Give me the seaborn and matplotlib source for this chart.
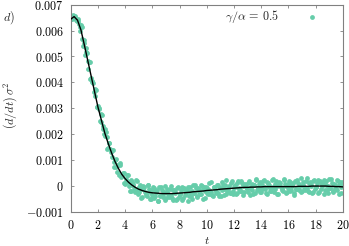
import numpy as np
import pandas as pd
import matplotlib
matplotlib.use('Agg')
import matplotlib.pyplot as plt
import seaborn as sns

# estilo tipo gnuplot / LaTeX
sns.set_style('ticks')
plt.rcParams['font.family'] = 'serif'
plt.rcParams['font.serif'] = ['cmr10']
plt.rcParams['mathtext.fontset'] = 'cm'
plt.rcParams['axes.unicode_minus'] = False
plt.rcParams['font.size'] = 8.7

# valores en unidades de 1e-5
# curva suave (paso 0.25 en t)
fit_vals = [644, 654, 640, 603, 545, 485, 425, 365, 305, 255,
            205, 165, 128, 95, 68, 45, 28, 14, 3, -6,
            -13, -18, -22, -25, -27, -28, -29, -30, -30, -30,
            -30, -29, -28, -27, -26, -25, -23, -22, -21, -20,
            -18, -17, -16, -15, -13, -12, -11, -10, -9, -8,
            -7, -6, -6, -5, -5, -4, -4, -3, -3, -3,
            -3, -3, -3, -3, -3, -3, -3, -2, -2, -2,
            -2, -1, -1, -1, -1, -1, -2, -2, -3, -3,
            -4]

# puntos de simulacion, serie A (t = 0, 0.1, ..., 20)
pts_a = [648, 645, 660, 650, 640, 645, 624, 600, 612, 541,
         552, 519, 513, 453, 479, 417, 401, 363, 376, 304,
         310, 297, 247, 273, 220, 193, 207, 142, 165, 143,
         112, 137, 94, 103, 54, 79, 90, 36, 37, 51,
         6, 28, 40, 1, -19, 16, 1, -24, 21, -11,
         -24, 5, -47, -12, -5, -28, -40, 2, -25, -49,
         -17, -9, -41, -24, -57, -6, -37, -18, -32, 1,
         -48, -25, -44, -11, -37, -54, -16, -28, -49, -3,
         -33, -17, -56, -10, -37, -18, -3, -41, -22, -49,
         5, -27, -9, -41, -15, -31, 4, -51, -3, -20,
         -9, -33, 10, -25, -37, -4, -13, -27, 5, -41,
         -7, -16, 3, -34, 22, -20, -9, -26, 11, -33,
         -5, 5, -27, 18, -14, -20, 10, -36, 3, -4,
         -23, 17, -10, 7, -31, 5, 25, -18, -7, 14,
         -25, 3, 22, -14, -30, 11, -3, -21, 24, -5,
         -13, 18, -31, 5, 12, -10, -19, 26, -2, -25,
         8, 16, -15, 2, -29, 19, -11, 11, -5, 32,
         -19, 4, -17, 18, -10, -25, 13, 1, -22, 23,
         -5, 11, -29, 17, -11, 8, 22, -18, 2, -26,
         25, -7, 12, -23, 4, -14, 22, -33, 13, -4,
         4]

# serie B (t = 0.05, 0.15, ..., 19.95)
pts_b = [645, 655, 650, 658, 638, 638, 612, 622, 568, 563,
         506, 533, 482, 478, 414, 404, 399, 347, 369, 305,
         299, 251, 276, 233, 200, 220, 189, 145, 165, 129,
         139, 74, 98, 71, 82, 41, 80, 40, 50, 12,
         14, 41, 13, -20, 21, 8, -18, -15, 19, -33,
         -4, -14, -45, -2, -22, -37, 3, -14, -51, -34,
         -6, -46, -25, -15, -59, -39, -4, -42, -25, -53,
         -13, -32, -39, -1, -47, -17, -24, -55, -10, -42,
         -32, -4, -48, -11, -27, -17, -58, -3, -39, -20,
         -29, 5, -42, -9, -24, -32, 1, -11, -46, -3,
         -27, -16, -33, 15, -40, -6, -21, 4, -27, -9,
         -41, 13, -14, 5, -33, -18, 1, -27, 20, -20,
         -4, -33, 12, -9, -21, 17, 0, -25, 8, -11,
         12, -36, -3, -17, 3, -28, 24, -8, 9, -22,
         -14, 20, -3, -29, 14, 3, -19, -10, 27, -23,
         8, -2, -32, 16, -5, -16, 23, 7, -27, -9,
         19, -20, 1, 10, -35, -14, 22, -16, 5, -24,
         14, -3, -10, 29, -20, 10, 3, -29, 17, -13,
         -6, 24, -24, 13, -1, 7, -31, 19, -17, 0,
         -9, 27, -21, 8, -7, -16, 20, 3, -29, 13]

xticks = [0, 2, 4, 6, 8, 10, 12, 14, 16, 18, 20]
yticks = [-0.001, 0, 0.001, 0.002, 0.003, 0.004, 0.005, 0.006, 0.007]
ytick_labels = ['$-0.001$', '$0$', '$0.001$', '$0.002$', '$0.003$',
                '$0.004$', '$0.005$', '$0.006$', '$0.007$']
legend_label = r'$\gamma/\alpha\,=\,0.5$'

escala = 1e-5
t_a = np.arange(len(pts_a)) * 0.1
t_b = 0.05 + np.arange(len(pts_b)) * 0.1
df_pts = pd.DataFrame({'t': np.concatenate([t_a, t_b]),
                       'v': np.array(pts_a + pts_b) * escala})
df_fit = pd.DataFrame({'t': np.arange(len(fit_vals)) * 0.25,
                       'v': np.array(fit_vals) * escala})

fig = plt.figure(figsize=(3.49, 2.46), dpi=100)
ax = fig.add_axes([0.2026, 0.1394, 0.7794, 0.8415])

sns.scatterplot(data=df_pts, x='t', y='v', color='#66cdaa', s=12,
                linewidth=0, label=legend_label, ax=ax, zorder=2)
sns.lineplot(data=df_fit, x='t', y='v', color='black', lw=1.0,
             ax=ax, zorder=3, legend=False)

ax.set_xlim(0, 20)
ax.set_ylim(-0.001, 0.007)
ax.set_xticks(xticks)
ax.set_xticklabels([f'${v}$' for v in xticks])
ax.set_yticks(yticks)
ax.set_yticklabels(ytick_labels)
ax.tick_params(direction='in', length=2.2, width=0.6, top=True, right=True,
               color='#808080', labelcolor='black', pad=5)
for s in ax.spines.values():
    s.set_color('#808080')
    s.set_linewidth(0.8)

ax.set_xlabel('$t$')
ax.set_ylabel(r'$(d/dt)\,\sigma^2$')
ax.xaxis.set_label_coords(0.5, -0.11)
ax.yaxis.set_label_coords(-0.19, 0.515)

ax.legend(loc='upper right', bbox_to_anchor=(0.9085, 0.982), markerfirst=False,
          frameon=False, borderpad=0, borderaxespad=0, handlelength=1.0,
          handletextpad=2.2, fontsize=8.7)

fig.text(0.009, 0.929, '$d)$', va='center', ha='left', fontsize=8.7)

fig.savefig('out.png', dpi=100)
